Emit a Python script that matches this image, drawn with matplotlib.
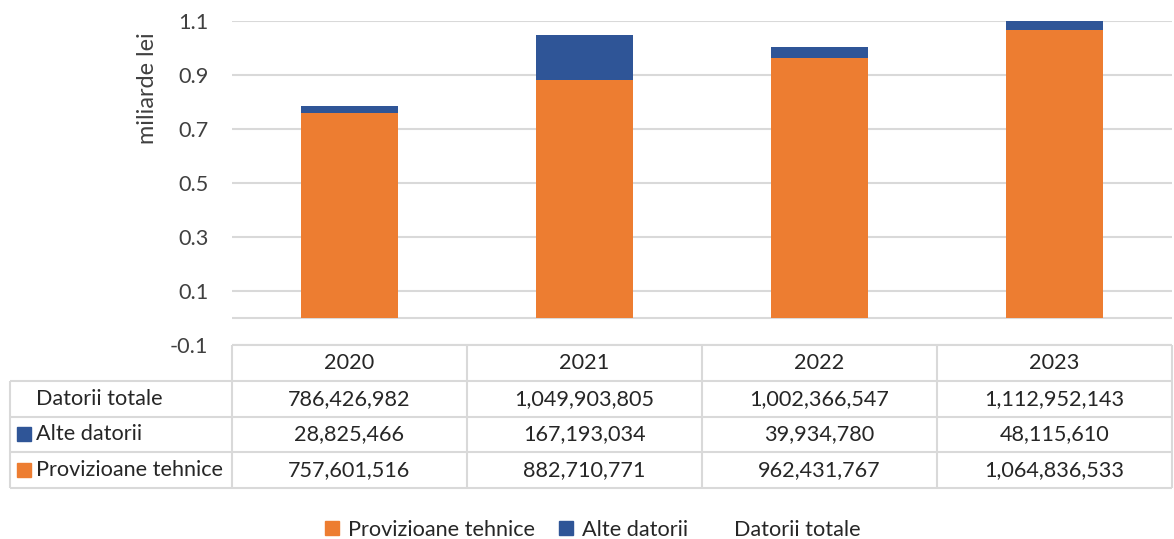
import matplotlib
matplotlib.use("Agg")
import matplotlib.pyplot as plt
import numpy as np
from matplotlib.patches import Patch, Rectangle

plt.rcParams['font.family'] = ['Lato', 'DejaVu Sans']

years = ['2020', '2021', '2022', '2023']
provizioane = [757601516, 882710771, 962431767, 1064836533]
alte = [28825466, 167193034, 39934780, 48115610]
totale = [786426982, 1049903805, 1002366547, 1112952143]
row_labels = ['Datorii totale', 'Alte datorii', 'Provizioane tehnice']
yticks = [-0.1, 0.1, 0.3, 0.5, 0.7, 0.9, 1.1]

orange = '#ED7D31'
blue = '#2F5597'
grid = '#D9D9D9'
txt = '#262626'
fs = 15.6

W, H = 1174, 539
fig = plt.figure(figsize=(W / 100, H / 100), dpi=100)


def box(l, t, r, b):  # pixel box -> figure fraction
    return [l / W, 1 - b / H, (r - l) / W, (b - t) / H]


# chart
ax = fig.add_axes(box(232, 21, 1172, 345))
x = np.arange(len(years))
prov = np.array(provizioane) / 1e9
alt = np.array(alte) / 1e9
ax.bar(x, prov, width=0.41, color=orange, zorder=2)
ax.bar(x, alt, bottom=prov, width=0.41, color=blue, zorder=2)
ax.set_xlim(-0.5, len(years) - 0.5)
ax.set_ylim(-0.1, 1.1)
ax.set_yticks(yticks)
ax.set_yticklabels([f'{v:.1f}' for v in yticks], fontsize=fs, color='#404040')
ax.set_xticks([])
ax.tick_params(axis='y', length=0, pad=17)
ax.grid(axis='y', color=grid, lw=1.5, zorder=0)
ax.axhline(0, color=grid, lw=1.5, zorder=1)
for s in ax.spines.values():
    s.set_visible(False)
fig.text(148 / W, 1 - 88 / H, 'miliarde lei', rotation=90, ha='center', va='center',
         fontsize=16.8, color='#404040')

# data table
tab = fig.add_axes(box(10, 345, 1172, 488))
left = -0.5 - 222 / 235
right = len(years) - 0.5
tab.set_xlim(left, right)
tab.set_ylim(4, 0)
tab.axis('off')
kw = dict(color=grid, lw=1.5, clip_on=False)
tab.hlines(0, -0.5, right, **kw)
tab.hlines([1, 2, 3, 4], left, right, **kw)
tab.vlines(left, 1, 4, **kw)
tab.vlines(np.arange(len(years) + 1) - 0.5, 0, 4, **kw)

for i, y in enumerate(years):
    tab.text(i, 0.5, y, ha='center', va='center', fontsize=fs, color=txt)
rows = [totale, alte, provizioane]
for r, vals in enumerate(rows):
    for i, v in enumerate(vals):
        tab.text(i, r + 1.5, f'{v:,}', ha='center', va='center', fontsize=fs, color=txt)
    tab.text(left + 26 / 235, r + 1.5, row_labels[r], ha='left', va='center',
             fontsize=fs, color=txt)
sq_w, sq_h = 14 / 235, 14 / 35.75
for r, c in [(1, blue), (2, orange)]:
    tab.add_patch(Rectangle((left + 7 / 235, r + 1.5 - sq_h / 2), sq_w, sq_h,
                            color=c, clip_on=False))

# legend
handles = [Patch(color=orange), Patch(color=blue), Patch(facecolor='none', edgecolor='none')]
fig.legend(handles, ['Provizioane tehnice', 'Alte datorii', 'Datorii totale'],
           ncol=3, loc='lower center', bbox_to_anchor=(593 / W, -0.005), frameon=False,
           fontsize=fs, handlelength=0.65, handleheight=0.65, handletextpad=0.4,
           columnspacing=1.1, borderaxespad=0, borderpad=0.1, labelcolor=txt)

fig.savefig('out.png', dpi=100)
